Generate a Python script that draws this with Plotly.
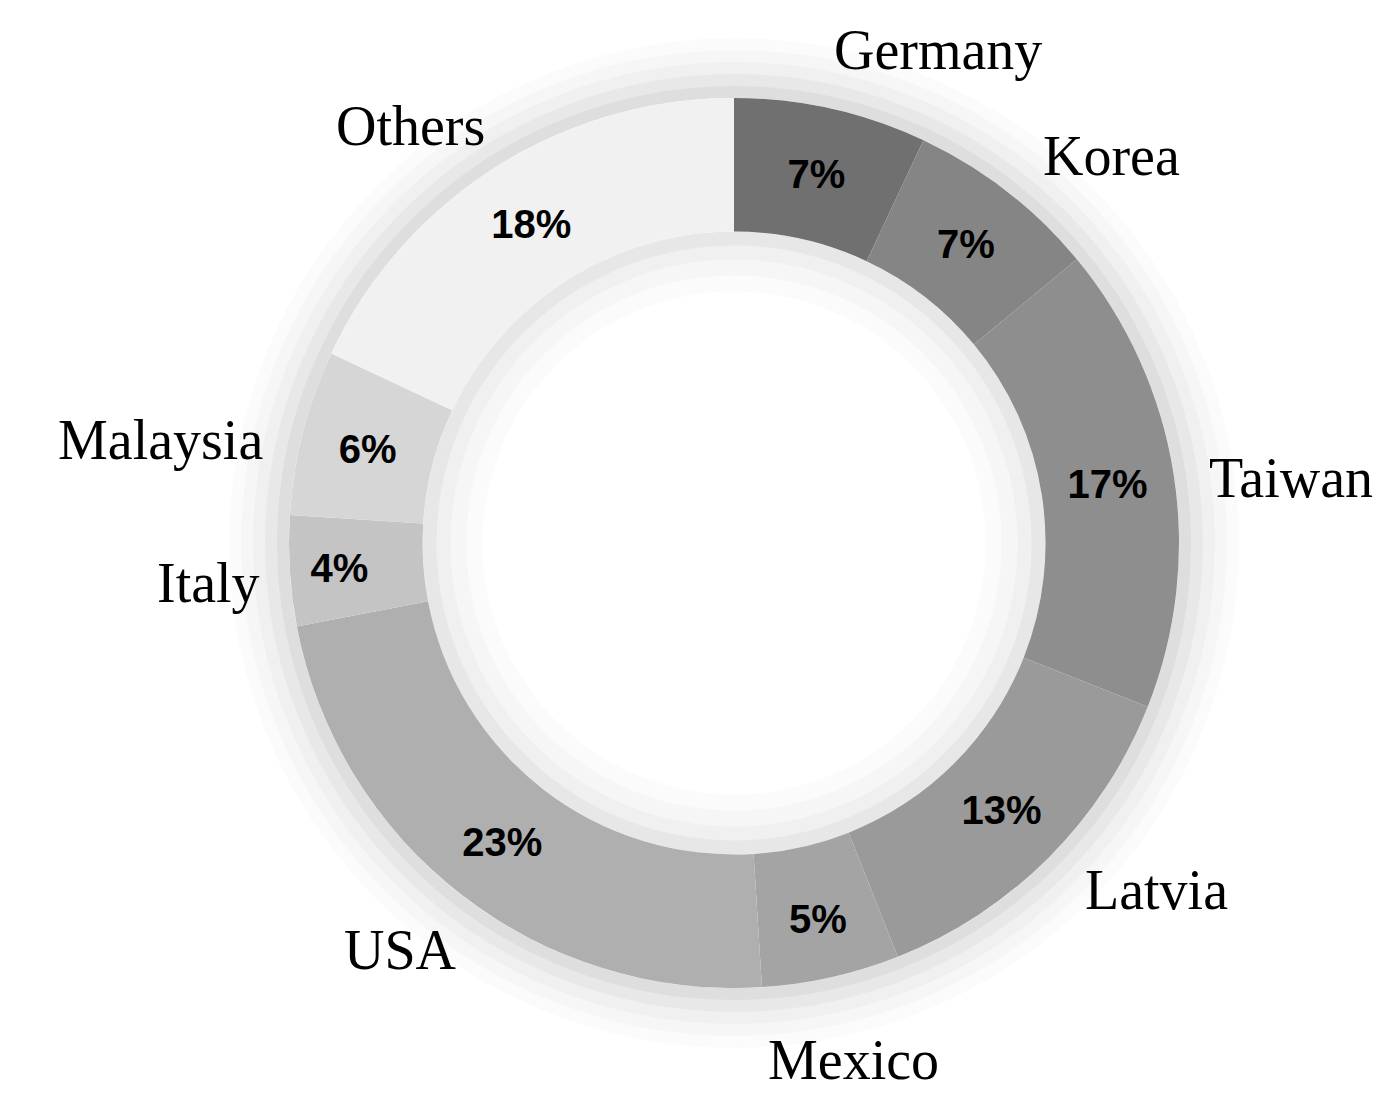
import plotly.graph_objects as go

countries = ["Germany", "Korea", "Taiwan", "Latvia", "Mexico", "USA", "Italy", "Malaysia", "Others"]
shares = [7, 7, 17, 13, 5, 23, 4, 6, 18]
colors = ["#707070", "#858585", "#8e8e8e", "#9a9a9a", "#a4a4a4", "#afafaf", "#c4c4c4", "#d6d6d6", "#f1f1f1"]
# label centre points (pixels in 1392x1097 canvas)
label_px = [(930, 42), (1103, 148), (1283, 470), (1148, 882), (845, 1052),
            (392, 942), (200, 575), (152, 432), (402, 118)]

W, H = 1392, 1097
cx, cy, R = 726, 535, 445
HOLE = 0.70

fig = go.Figure()
fig.add_trace(go.Pie(
    labels=countries, values=shares, sort=False, direction="clockwise", rotation=0,
    hole=HOLE,
    marker=dict(colors=colors, line=dict(width=0)),
    texttemplate="%{value}%", textposition="inside", insidetextorientation="horizontal",
    textfont=dict(family="Liberation Sans", size=40, color="black", weight="bold"),
    domain=dict(x=[(cx - R) / W, (cx + R) / W], y=[1 - (cy + R) / H, 1 - (cy - R) / H]),
    showlegend=False, hoverinfo="label+percent",
))

def ring(r, width, op):
    return dict(type="circle", xref="paper", yref="paper", layer="below",
                x0=(cx - r) / W, x1=(cx + r) / W, y0=1 - (cy + r) / H, y1=1 - (cy - r) / H,
                fillcolor="rgba(0,0,0,0)", line=dict(width=width, color=f"rgba(0,0,0,{op})"))

shapes = []
# outer soft glow
for d, op in [(60, 0.015), (48, 0.02), (36, 0.025), (24, 0.03), (12, 0.04)]:
    shapes.append(ring(R + d / 2, d, op))
# inner shadow in the hole
ri = R * HOLE
for d, op in [(60, 0.015), (44, 0.02), (28, 0.025), (14, 0.035)]:
    shapes.append(ring(ri - d / 2, d, op))

annotations = [dict(x=px / W, y=1 - py / H, xref="paper", yref="paper", text=name,
                    xanchor="center", yanchor="middle", showarrow=False,
                    font=dict(family="Liberation Serif", size=56, color="black"))
               for name, (px, py) in zip(countries, label_px)]

fig.update_layout(width=W, height=H, margin=dict(l=0, r=0, t=0, b=0),
                  paper_bgcolor="white", plot_bgcolor="white",
                  shapes=shapes, annotations=annotations)
fig.write_html("out.html")
